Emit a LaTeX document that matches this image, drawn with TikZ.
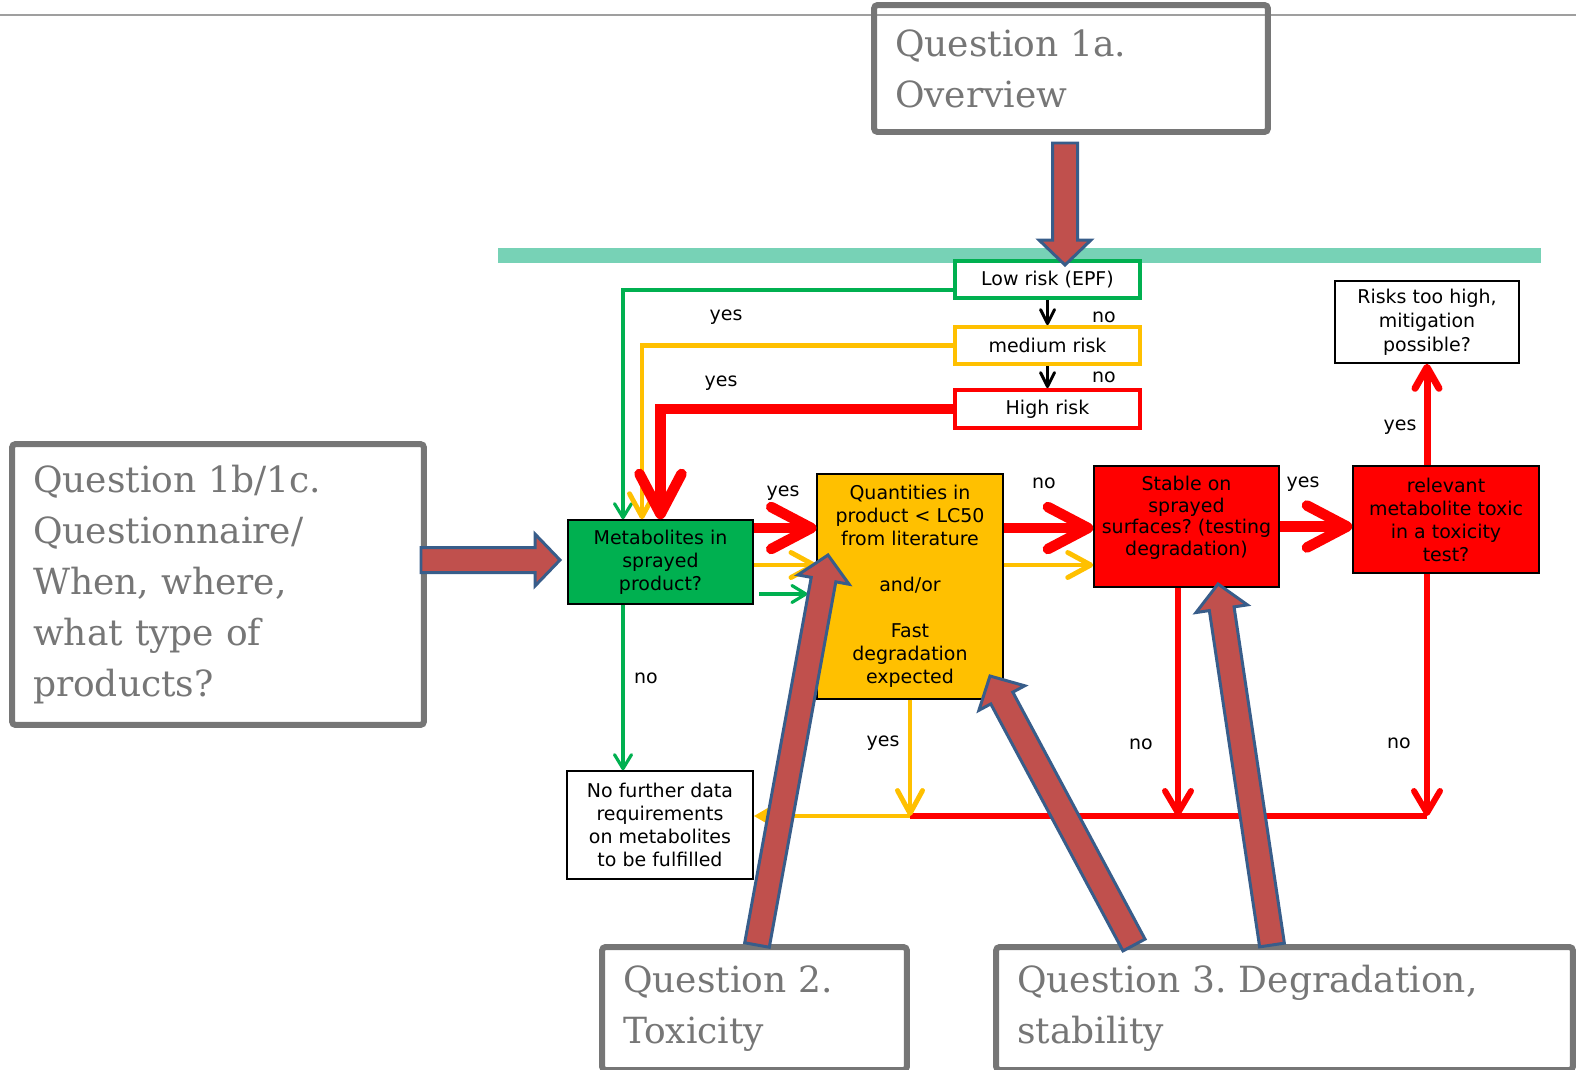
\documentclass[tikz,border=0pt]{standalone}
\usepackage{fontspec}
\setmainfont{DejaVu Sans}
\newfontfamily\qfont{DejaVu Serif}
\usetikzlibrary{arrows.meta, calc}
\frenchspacing

\definecolor{fgreen}{RGB}{0,176,80}
\definecolor{fyellow}{RGB}{255,192,0}
\definecolor{fred}{RGB}{255,0,0}
\definecolor{barteal}{RGB}{119,210,182}
\definecolor{qgray}{RGB}{118,118,118}
\definecolor{afill}{RGB}{192,80,77}
\definecolor{aline}{RGB}{56,93,138}

\begin{document}
\begin{tikzpicture}[
        x = 0.02cm, y = -0.02cm, % one unit = one pixel, y downwards
        font = \fontsize{10.8}{13.1}\selectfont
    ]

    \tikzstyle{box}=[
        draw = black,
        line width = 0.9pt,
        align = center,
        inner sep = 0pt,
        minimum width = 3.7cm
    ]
    \tikzstyle{risk}=[box, line width = 2.2pt, fill = white, minimum height = 0.74cm]
    \tikzstyle{question}=[
        draw = qgray,
        line width = 3.4pt,
        rounded corners = 2pt,
        align = left,
        inner ysep = 0pt,
        inner xsep = 0.42cm,
        text = qgray,
        font = \qfont\fontsize{20.5}{29}\selectfont
    ]
    \tikzstyle{lbl}=[inner sep = 0pt]
    \tikzstyle{blk}=[draw = black, line width = 1.7pt, -{Straight Barb[round, length = 0.28cm, width = 0.28cm]}]
    \tikzstyle{grn}=[draw = fgreen, line width = 1.8pt, -{Straight Barb[round, length = 0.28cm, width = 0.34cm]}]
    \tikzstyle{ylw}=[draw = fyellow, line width = 2.8pt, -{Straight Barb[round, length = 0.46cm, width = 0.5cm]}]
    \tikzstyle{ylwtri}=[draw = fyellow, line width = 2.8pt, -{Triangle[length = 0.28cm, width = 0.3cm]}]
    \tikzstyle{redthick}=[draw = fred, line width = 6pt, -{Straight Barb[round, length = 0.8cm, width = 0.84cm]}]
    \tikzstyle{redup}=[draw = fred, line width = 4pt, -{Straight Barb[round, length = 0.42cm, width = 0.48cm]}]
    \tikzstyle{redthin}=[draw = fred, line width = 3.4pt, -{Straight Barb[round, length = 0.44cm, width = 0.52cm]}]
    \tikzstyle{redline}=[draw = fred, line width = 3.4pt]
    \tikzstyle{bigarrow}=[fill = afill, draw = aline, line width = 1.7pt, line join = miter]

    \useasboundingbox (0,0) rectangle (1576,1069);

    \draw[qgray!70, line width = 1.1pt] (0,15) -- (1576,15);
    \fill[barteal] (498,248) rectangle (1541,263);

    % questions
    \node[question, text width = 7.04cm, minimum height = 2.54cm] (q1a) at (1071,68.5) {Question 1a.\\Overview};
    \node[question, text width = 7.4cm, minimum height = 5.62cm] (q1b) at (218,584.5) {Question 1b/1c.\\Questionnaire/\\When, where,\\what type of\\products?};
    \node[question, text width = 5.26cm, minimum height = 2.46cm] (q2) at (754.5,1008.5) {Question 2.\\Toxicity};
    \node[question, text width = 10.7cm, minimum height = 2.46cm] (q3) at (1284.5,1008.5) {Question 3. Degradation,\\stability};

    % risk levels
    \node[risk, draw = fgreen] (low) at (1047.5,279.5) {Low risk (EPF)};
    \node[risk, draw = fyellow] (med) at (1047.5,345.5) {medium risk};
    \node[risk, draw = fred, minimum height = 0.76cm] (high) at (1047.5,409) {High risk};

    % decision boxes
    \node[box, fill = fgreen, minimum height = 1.68cm] (meta) at (660.5,562) {Metabolites in\\sprayed\\product?};
    \node[box, fill = fyellow, minimum width = 3.71cm, minimum height = 4.5cm] (quant) at (910,586.5)
        {Quantities in\\product < LC50\\from literature\\[13.1pt]and/or\\[13.1pt]Fast\\degradation\\expected};
    \node[box, fill = fred, minimum height = 2.42cm, font = \fontsize{10.8}{12.2}\selectfont] (stable) at (1186.5,526.5)
        {Stable on\\sprayed\\surfaces? (testing\\degradation)\\\mbox{}};
    \node[box, fill = fred, minimum width = 3.72cm, minimum height = 2.14cm] (relev) at (1446,519.5) {relevant\\metabolite toxic\\in a toxicity\\test?};
    \node[box, minimum width = 3.68cm, minimum height = 1.64cm, font = \fontsize{10.8}{13.6}\selectfont] (risks) at (1427,322) {Risks too high,\\mitigation\\possible?};
    \node[box, minimum width = 3.72cm, minimum height = 2.16cm] (nofur) at (660,825) {No further data\\requirements\\on metabolites\\to be fulfilled};

    % helper points
    \coordinate (gtop) at ([yshift=-0.21cm]low.west);
    \coordinate (gcol) at ([xshift=-0.75cm]meta.north);
    \coordinate (ycol) at ([xshift=-0.37cm]meta.north);
    \coordinate (mr) at ([yshift=0.68cm]meta.east);
    \coordinate (my) at ([yshift=-0.06cm]meta.east);
    \coordinate (mg) at ([xshift=0.1cm, yshift=-0.64cm]meta.east);
    \coordinate (gdown) at ([xshift=-0.75cm]meta.south);
    \coordinate (qr) at ([yshift=1.17cm]quant.east);
    \coordinate (qy) at ([yshift=0.43cm]quant.east);
    \coordinate (bline) at (0,816);
    \coordinate (ybot) at (quant.south |- bline);
    \coordinate (scol) at ([xshift=-0.17cm]stable.south);
    \coordinate (sbot) at (scol |- bline);
    \coordinate (rcol) at (risks.south |- relev.south);
    \coordinate (rbot) at (rcol |- bline);

    \draw[blk] (low) -- (med);
    \draw[blk] (med) -- (high);

    \draw[grn] (gtop) -| (gcol);
    \draw[ylw] (med.west) -| (ycol);
    \draw[redthick] (high.west) -| (meta.north);

    \draw[redthick] (mr) -- (mr -| quant.west);
    \draw[ylw] (my) -- (my -| quant.west);
    \draw[grn, shorten >= 0.18cm] (mg) -- (mg -| quant.west);
    \draw[grn] (gdown) -- (gdown |- nofur.north);

    \draw[redthick] (qr) -- (qr -| stable.west);
    \draw[ylw] (qy) -- (qy -| stable.west);
    \draw[redthick] (stable.east) -- (stable.east -| relev.west);
    \draw[redup] (relev.north -| risks.south) -- (risks.south);

    \draw[redline] (ybot) -- (rbot);
    \draw[redthin] (scol) -- (sbot);
    \draw[redthin] (rcol) -- (rbot);
    \draw[ylw] (quant.south) -- (ybot);
    \draw[ylwtri] (ybot) -- (ybot -| nofur.east);

    % labels
    \node[lbl] (yes1) at (726,317) {yes};
    \node[lbl] (yes2) at (721,383) {yes};
    \node[lbl] (no1) at (1104,317) {no};
    \node[lbl] (no2) at (1104,377) {no};
    \node[lbl] (yes3) at (783,493) {yes};
    \node[lbl] (no3) at (646,678) {no};
    \node[lbl] (no4) at (1044,483) {no};
    \node[lbl] (yes4) at (1303,484) {yes};
    \node[lbl] (yes5) at (1400,427) {yes};
    \node[lbl] (yes6) at (883,743) {yes};
    \node[lbl] (no5) at (1141,744) {no};
    \node[lbl] (no6) at (1399,743) {no};

    % block arrows from the questions
    \coordinate (a1s) at (1065,143);  \coordinate (a1e) at (1065,265);
    \coordinate (a2s) at (421,560);   \coordinate (a2e) at (560,560);
    \coordinate (a3s) at (757,945);   \coordinate (a3e) at (828,555);
    \coordinate (a4s) at (1134,945);  \coordinate (a4e) at (990,676);
    \coordinate (a5s) at (1272,945);  \coordinate (a5e) at (1218,584);

    \foreach \s/\e in {a1s/a1e, a2s/a2e, a3s/a3e, a4s/a4e, a5s/a5e} {
        \coordinate (hb) at ($(\e)!0.5cm!(\s)$);
        \draw[bigarrow] ($(\s)!0.25cm!90:(\e)$) -- ($(hb)!0.25cm!-90:(\s)$) -- ($(hb)!0.52cm!-90:(\s)$)
            -- (\e) -- ($(hb)!0.52cm!90:(\s)$) -- ($(hb)!0.25cm!90:(\s)$) -- ($(\s)!0.25cm!-90:(\e)$) -- cycle;
    }
\end{tikzpicture}
\end{document}
